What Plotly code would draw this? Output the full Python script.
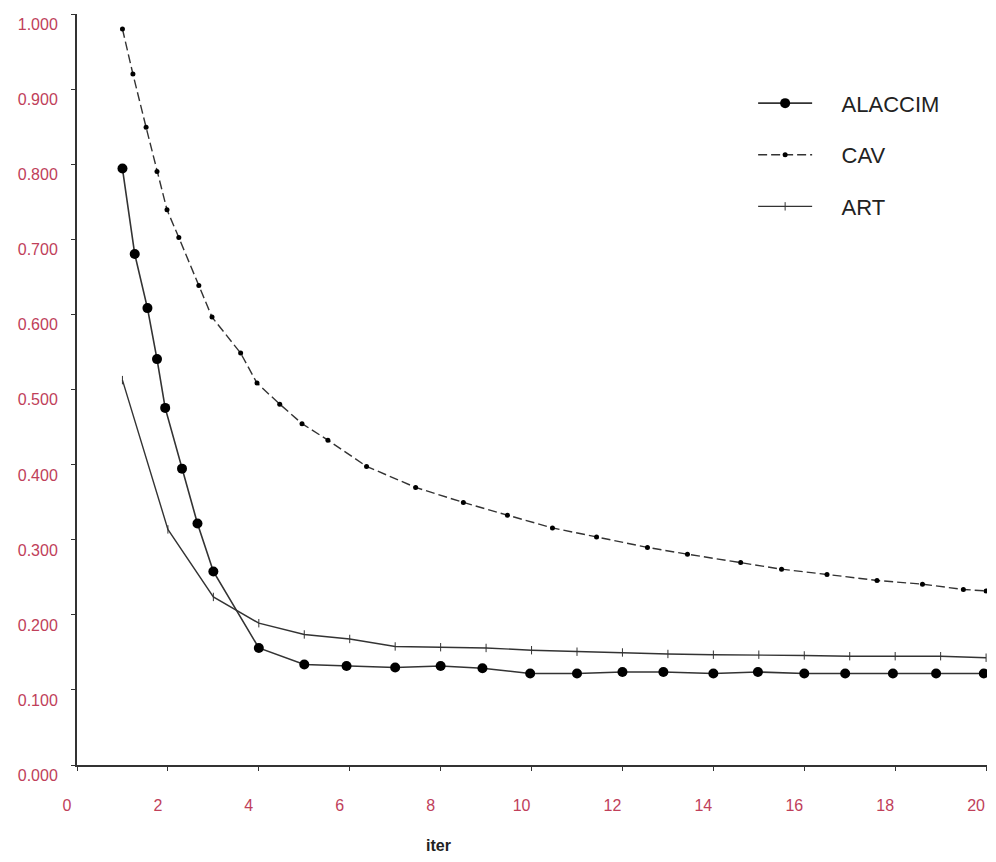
import plotly.graph_objects as go

# ---- data ----
alaccim_x = [1.0, 1.27, 1.55, 1.76, 1.94, 2.31, 2.65, 3.0, 4.0, 5.0, 5.93, 7.0, 8.0, 8.92,
             9.97, 11.0, 12.0, 12.9, 14.0, 14.98, 16.0, 16.9, 17.95, 18.9, 19.95]
alaccim_y = [0.795, 0.681, 0.609, 0.541, 0.476, 0.395, 0.322, 0.258, 0.156, 0.134, 0.132,
             0.130, 0.132, 0.129, 0.122, 0.122, 0.124, 0.124, 0.122, 0.124, 0.122, 0.122,
             0.122, 0.122, 0.122]

cav_x = [1.0, 1.23, 1.52, 1.76, 1.98, 2.24, 2.68, 2.97, 3.6, 3.96, 4.46, 4.95, 5.52, 6.37,
         7.45, 8.5, 9.47, 10.46, 11.43, 12.55, 13.43, 14.6, 15.5, 16.5, 17.6, 18.6, 19.5, 20.0]
cav_y = [0.981, 0.921, 0.850, 0.791, 0.740, 0.703, 0.639, 0.597, 0.549, 0.509, 0.481, 0.455,
         0.433, 0.398, 0.370, 0.350, 0.333, 0.316, 0.304, 0.290, 0.281, 0.270, 0.261, 0.254,
         0.246, 0.241, 0.234, 0.232]

art_x = list(range(1, 21))
art_y = [0.513, 0.314, 0.224, 0.189, 0.174, 0.168, 0.158, 0.157, 0.156, 0.153, 0.151,
         0.150, 0.148, 0.147, 0.147, 0.146, 0.145, 0.145, 0.145, 0.143]

x_ticks = [0, 2, 4, 6, 8, 10, 12, 14, 16, 18, 20]
y_ticks = [0.0, 0.1, 0.2, 0.3, 0.4, 0.5, 0.6, 0.7, 0.8, 0.9, 1.0]

LINE = "#333333"
TICK_COLOR = "#c0405a"
PAD = "\u00a0\u00a0\u00a0\u00a0"

fig = go.Figure()
fig.add_trace(go.Scatter(
    x=alaccim_x, y=alaccim_y, name=PAD + "ALACCIM", mode="lines+markers", legendgroup="a",
    line=dict(color=LINE, width=1.6),
    marker=dict(symbol="circle", size=10, color="#000000"),
))
fig.add_trace(go.Scatter(
    x=cav_x, y=cav_y, name=PAD + "CAV", mode="lines+markers", legendgroup="c",
    line=dict(color=LINE, width=1.4, dash="9px,4px"),
    marker=dict(symbol="circle", size=5, color="#000000"),
))
fig.add_trace(go.Scatter(
    x=art_x, y=art_y, name=PAD + "ART", mode="lines+markers", legendgroup="r",
    line=dict(color=LINE, width=1.4),
    marker=dict(symbol="line-ns-open", size=6, color=LINE, line=dict(width=1, color=LINE)),
))

# page body has an 8px margin: figure is 980x846, plot area spans screen x 77..987, y 14..765
fig.update_layout(
    width=980, height=846,
    margin=dict(l=69, r=1, t=6, b=89),
    paper_bgcolor="white", plot_bgcolor="white",
    font=dict(family="Liberation Sans, Arial, sans-serif", color="#222222"),
    showlegend=True,
    legend=dict(
        x=0.743, y=0.909, xanchor="left", yanchor="top",
        font=dict(size=22, color="#222222"),
        itemwidth=54, tracegroupgap=20,
        bgcolor="rgba(0,0,0,0)",
    ),
    xaxis=dict(
        range=[0, 20.02], tickvals=x_ticks, ticktext=[str(v) for v in x_ticks],
        showgrid=False, zeroline=False, showline=True, linecolor=LINE, linewidth=2,
        ticks="outside", ticklen=4, tickcolor=LINE,
        tickfont=dict(size=16, color=TICK_COLOR),
        ticklabelstandoff=21, ticklabelshift=-10,
    ),
    yaxis=dict(
        range=[0, 1.001], tickvals=y_ticks, tickformat=".3f",
        showgrid=False, zeroline=False, showline=True, linecolor=LINE, linewidth=2,
        ticks="outside", ticklen=4, tickcolor=LINE,
        tickfont=dict(size=16, color=TICK_COLOR),
        ticklabelstandoff=10, ticklabelshift=10,
    ),
    annotations=[dict(
        text="<b>iter</b>", xref="paper", yref="paper", x=(438 - 77) / 910, y=-(845 - 765) / 751,
        xanchor="center", yanchor="middle", showarrow=False,
        font=dict(size=16, color="#222222"),
    )],
)

fig.write_html("out.html")
